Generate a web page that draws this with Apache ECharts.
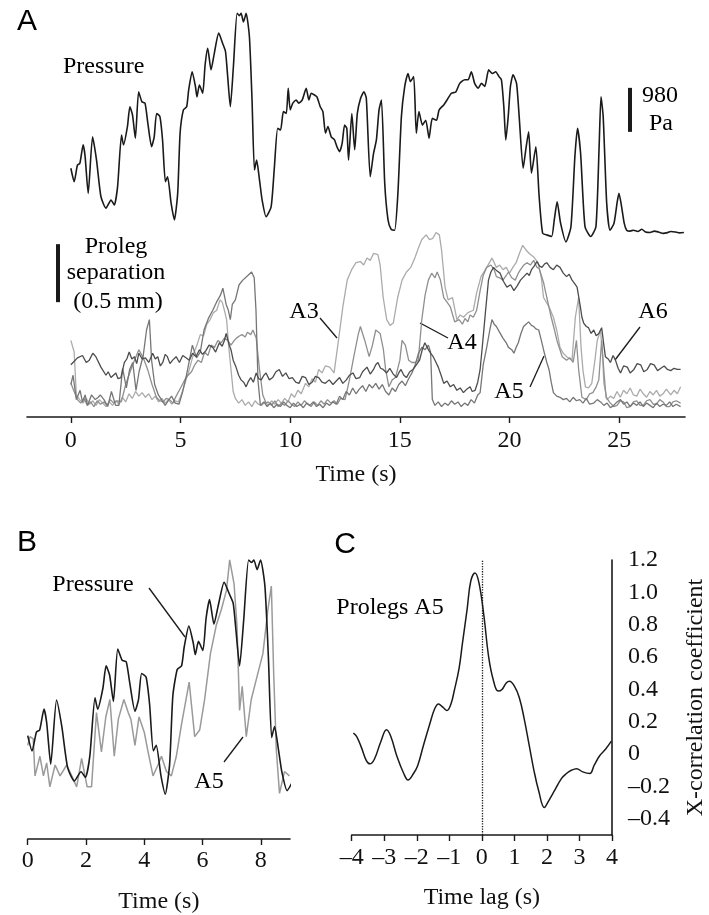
<!DOCTYPE html>
<html><head><meta charset="utf-8">
<script src="https://cdn.jsdelivr.net/npm/echarts@6/dist/echarts.min.js"></script>
<style>html,body{margin:0;padding:0;background:#fff}#c{width:709px;height:915px}</style>
</head><body><div id="c"></div>
<script>
// ---------- DATA ----------
// Panel A: pressure (Pa, relative) vs time (s)
const pressurePa = [[0,1420],[0.15,1120],[0.3,1490],[0.41,1530],[0.56,1940],[0.65,1680],[0.79,860],[0.99,2120],[1.17,1600],[1.37,790],[1.6,530],[1.83,710],[1.98,600],[2.13,1010],[2.31,2160],[2.4,1940],[2.58,2350],[2.69,2790],[2.81,2610],[2.94,2090],[3.09,3120],[3.24,2900],[3.38,2870],[3.5,2460],[3.68,1900],[3.8,2120],[3.91,2640],[4.06,2570],[4.18,2050],[4.31,1120],[4.41,1230],[4.57,640],[4.72,270],[4.87,860],[4.98,2200],[5.13,2720],[5.28,2790],[5.37,3160],[5.53,3570],[5.68,3240],[5.75,3010],[5.86,3270],[6.01,3090],[6.12,3720],[6.24,4090],[6.39,3610],[6.54,3980],[6.74,4430],[6.92,4200],[7.05,4020],[7.15,3460],[7.27,2790],[7.41,3680],[7.58,4870],[7.68,4820],[7.76,4870],[7.87,4680],[7.99,4870],[8.14,4350],[8.26,2940],[8.37,1380],[8.47,1600],[8.6,1160],[8.72,710],[8.9,340],[9.13,560],[9.28,1450],[9.43,2310],[9.56,2270],[9.69,2680],[9.82,2640],[9.91,3200],[10.0,2720],[10.12,2870],[10.27,2940],[10.39,2870],[10.55,2940],[10.73,3200],[10.85,2940],[10.96,3090],[11.11,3050],[11.22,3010],[11.37,2790],[11.49,2680],[11.61,2200],[11.72,2350],[11.87,2120],[12.02,2050],[12.13,1900],[12.25,1790],[12.37,1980],[12.48,2380],[12.58,2310],[12.66,1600],[12.81,2640],[12.94,1830],[13.06,2640],[13.21,2980],[13.36,3120],[13.47,2980],[13.65,1230],[13.8,1750],[13.93,2050],[14.05,2720],[14.16,2940],[14.31,1080],[14.46,270],[14.6,60],[14.76,40],[14.91,860],[15.07,2570],[15.22,3240],[15.37,3530],[15.48,3350],[15.63,3460],[15.75,2200],[15.87,2680],[16.03,2380],[16.18,2490],[16.33,2090],[16.48,2530],[16.67,2490],[16.79,2720],[17.0,2830],[17.15,2940],[17.35,3090],[17.55,3120],[17.73,3310],[17.96,3390],[18.11,3390],[18.26,3570],[18.41,3310],[18.57,3200],[18.72,3310],[18.87,3240],[19.05,3610],[19.22,3530],[19.37,3570],[19.52,3460],[19.63,3390],[19.74,2790],[19.83,2050],[19.94,2570],[20.04,3240],[20.16,3500],[20.32,3310],[20.44,2570],[20.62,1420],[20.74,1830],[20.87,2230],[21.0,1310],[21.2,1900],[21.35,790],[21.51,-30],[21.72,-70],[21.92,-100],[22.04,270],[22.17,670],[22.33,190],[22.57,-220],[22.8,120],[22.98,1680],[23.1,2310],[23.24,1750],[23.44,120],[23.7,-100],[23.94,120],[24.09,1980],[24.17,3010],[24.27,2570],[24.43,640],[24.58,40],[24.76,190],[24.91,670],[24.99,860],[25.11,560],[25.23,190],[25.34,40],[25.5,20],[25.65,40],[25.85,10],[26.03,60],[26.2,0],[26.41,-10],[26.6,20],[26.79,0],[27.0,-30],[27.17,-20],[27.35,10],[27.55,0],[27.75,-20],[27.95,-10]];

// Panel A: proleg separation (mm) vs time (s)
const prolegA3 = [[0,0.66],[0.15,0.56],[0.25,0.19],[0.4,0.15],[0.55,0.12],[0.7,0.16],[0.85,0.11],[1.0,0.14],[1.15,0.1],[1.3,0.15],[1.45,0.12],[1.6,0.09],[1.75,0.13],[1.9,0.1],[2.05,0.14],[2.2,0.11],[2.35,0.17],[2.5,0.13],[2.65,0.2],[2.8,0.16],[2.95,0.22],[3.1,0.18],[3.25,0.21],[3.4,0.17],[3.55,0.2],[3.7,0.15],[3.85,0.18],[4.0,0.13],[4.15,0.16],[4.3,0.12],[4.45,0.15],[4.6,0.11],[4.75,0.14],[4.9,0.13],[5.05,0.2],[5.2,0.29],[5.4,0.41],[5.6,0.55],[5.75,0.62],[5.9,0.71],[6.05,0.7],[6.2,0.8],[6.35,0.84],[6.5,0.9],[6.65,0.92],[6.8,1.01],[6.9,0.99],[7.0,0.92],[7.1,0.84],[7.2,0.6],[7.3,0.41],[7.4,0.22],[7.5,0.16],[7.65,0.12],[7.8,0.15],[7.95,0.1],[8.1,0.13],[8.25,0.09],[8.4,0.14],[8.55,0.11],[8.7,0.1],[8.85,0.13],[9.0,0.1],[9.15,0.14],[9.3,0.11],[9.45,0.15],[9.6,0.12],[9.75,0.16],[9.9,0.13],[10.05,0.2],[10.2,0.17],[10.35,0.23],[10.5,0.2],[10.7,0.29],[10.85,0.26],[11.0,0.33],[11.15,0.3],[11.3,0.41],[11.45,0.38],[11.6,0.44],[11.8,0.43],[12.0,0.38],[12.2,0.66],[12.4,0.95],[12.6,1.18],[12.8,1.27],[13.0,1.33],[13.2,1.34],[13.35,1.31],[13.5,1.37],[13.65,1.35],[13.8,1.41],[14.0,1.4],[14.1,1.31],[14.24,1.03],[14.4,0.84],[14.55,0.79],[14.7,0.81],[14.9,1.03],[15.1,1.18],[15.3,1.25],[15.5,1.29],[15.7,1.38],[15.85,1.46],[16.0,1.53],[16.2,1.57],[16.35,1.53],[16.5,1.54],[16.65,1.59],[16.8,1.57],[16.9,1.44],[17.06,1.12],[17.2,1.01],[17.4,1.03],[17.6,0.84],[17.75,0.88],[17.9,0.86],[18.1,0.9],[18.35,0.92],[18.5,1.07],[18.7,1.21],[18.96,1.29],[19.2,1.37],[19.4,1.29],[19.55,1.31],[19.7,1.27],[19.85,1.29],[20.0,1.24],[20.15,1.29],[20.3,1.33],[20.45,1.41],[20.6,1.48],[20.75,1.44],[20.9,1.41],[21.1,1.38],[21.3,1.33],[21.45,1.2],[21.55,1.03],[21.8,0.95],[22.0,0.86],[22.15,0.75],[22.3,0.6],[22.45,0.55],[22.6,0.52],[22.85,0.49],[23.0,0.86],[23.15,1.03],[23.26,0.6],[23.35,0.4],[23.46,0.26],[23.6,0.25],[23.75,0.29],[23.9,0.5],[24.0,0.66],[24.15,0.75],[24.25,0.5],[24.3,0.29],[24.45,0.15],[24.6,0.18],[24.75,0.16],[24.9,0.22],[25.05,0.17],[25.2,0.23],[25.35,0.2],[25.5,0.25],[25.65,0.19],[25.8,0.18],[25.95,0.24],[26.1,0.2],[26.25,0.17],[26.4,0.22],[26.55,0.19],[26.7,0.23],[26.85,0.18],[27.0,0.2],[27.15,0.24],[27.35,0.19],[27.5,0.23],[27.65,0.2],[27.8,0.26]];

const prolegA4 = [[0,0.29],[0.15,0.22],[0.3,0.15],[0.45,0.12],[0.6,0.16],[0.75,0.1],[0.9,0.13],[1.05,0.09],[1.2,0.14],[1.35,0.11],[1.5,0.13],[1.65,0.1],[1.8,0.15],[1.95,0.12],[2.1,0.14],[2.3,0.13],[2.5,0.28],[2.7,0.39],[2.9,0.49],[3.1,0.58],[3.3,0.51],[3.5,0.41],[3.7,0.28],[3.9,0.17],[4.05,0.14],[4.2,0.13],[4.35,0.16],[4.5,0.15],[4.65,0.12],[4.8,0.18],[5.0,0.25],[5.25,0.34],[5.5,0.39],[5.65,0.45],[5.8,0.49],[5.95,0.47],[6.1,0.56],[6.25,0.53],[6.4,0.62],[6.55,0.6],[6.7,0.66],[6.85,0.64],[7.0,0.68],[7.15,0.66],[7.3,0.62],[7.45,0.66],[7.55,0.68],[7.7,0.7],[7.8,0.71],[7.95,0.69],[8.05,0.73],[8.2,0.71],[8.3,0.75],[8.45,0.68],[8.6,0.41],[8.75,0.19],[8.9,0.12],[9.0,0.13],[9.15,0.1],[9.3,0.14],[9.45,0.09],[9.6,0.12],[9.75,0.1],[9.9,0.14],[10.05,0.11],[10.2,0.09],[10.35,0.13],[10.5,0.1],[10.65,0.14],[10.8,0.11],[10.95,0.09],[11.1,0.13],[11.25,0.1],[11.4,0.14],[11.55,0.11],[11.7,0.15],[11.85,0.12],[12.0,0.14],[12.15,0.11],[12.3,0.16],[12.5,0.15],[12.7,0.32],[12.9,0.52],[13.1,0.71],[13.2,0.78],[13.4,0.66],[13.6,0.52],[13.75,0.62],[13.9,0.75],[14.1,0.72],[14.25,0.58],[14.35,0.41],[14.5,0.26],[14.65,0.32],[14.8,0.34],[15.0,0.49],[15.1,0.66],[15.25,0.62],[15.4,0.49],[15.55,0.47],[15.7,0.47],[15.84,0.49],[16.0,0.84],[16.15,1.05],[16.3,1.18],[16.45,1.24],[16.6,1.2],[16.7,1.25],[16.85,1.18],[17.0,1.03],[17.15,0.99],[17.3,0.95],[17.5,0.82],[17.7,0.84],[17.85,0.8],[17.97,0.85],[18.1,0.82],[18.2,0.88],[18.35,0.86],[18.5,0.92],[18.66,1.09],[18.8,1.22],[18.96,1.29],[19.15,1.31],[19.3,1.27],[19.4,1.21],[19.55,1.2],[19.7,1.18],[19.85,1.22],[19.95,1.25],[20.1,1.2],[20.26,1.18],[20.4,1.24],[20.5,1.27],[20.65,1.31],[20.8,1.33],[20.95,1.31],[21.1,1.35],[21.25,1.29],[21.35,1.28],[21.55,1.16],[21.7,1.03],[21.9,0.86],[22.05,0.75],[22.16,0.66],[22.3,0.58],[22.4,0.52],[22.6,0.49],[22.75,0.51],[22.9,0.47],[23.05,0.66],[23.15,0.41],[23.3,0.17],[23.5,0.15],[23.65,0.2],[23.8,0.21],[23.95,0.26],[24.07,0.32],[24.2,0.66],[24.3,0.4],[24.4,0.17],[24.6,0.12],[24.75,0.09],[24.9,0.1],[25.05,0.14],[25.2,0.13],[25.35,0.08],[25.5,0.09],[25.65,0.13],[25.8,0.14],[25.95,0.1],[26.1,0.1],[26.25,0.14],[26.4,0.15],[26.55,0.11],[26.7,0.11],[26.85,0.15],[27.0,0.13],[27.15,0.09],[27.3,0.09],[27.45,0.13],[27.6,0.14],[27.8,0.12]];

const prolegA5 = [[0,0.28],[0.1,0.36],[0.25,0.15],[0.42,0.23],[0.53,0.13],[0.65,0.19],[0.76,0.1],[0.94,0.19],[1.11,0.15],[1.25,0.17],[1.34,0.19],[1.51,0.15],[1.68,0.09],[1.85,0.22],[2.04,0.1],[2.19,0.1],[2.36,0.42],[2.53,0.25],[2.68,0.41],[2.82,0.47],[2.97,0.23],[3.11,0.39],[3.3,0.53],[3.45,0.75],[3.58,0.84],[3.68,0.49],[3.82,0.28],[3.99,0.19],[4.13,0.15],[4.3,0.1],[4.47,0.15],[4.59,0.18],[4.76,0.12],[4.93,0.11],[5.1,0.22],[5.27,0.36],[5.54,0.62],[5.73,0.51],[5.9,0.56],[6.07,0.75],[6.27,0.85],[6.47,0.92],[6.64,0.99],[6.82,1.05],[6.93,1.11],[7.08,0.97],[7.18,0.92],[7.27,0.84],[7.36,0.97],[7.5,1.01],[7.67,1.14],[7.84,1.18],[8.07,1.22],[8.24,1.25],[8.36,1.2],[8.44,0.92],[8.53,0.32],[8.64,0.1],[8.8,0.13],[8.95,0.09],[9.1,0.12],[9.25,0.08],[9.4,0.11],[9.55,0.09],[9.7,0.13],[9.85,0.1],[10.0,0.08],[10.15,0.12],[10.3,0.09],[10.45,0.11],[10.6,0.08],[10.75,0.12],[10.9,0.1],[11.05,0.13],[11.2,0.09],[11.35,0.11],[11.5,0.08],[11.65,0.12],[11.8,0.1],[11.95,0.13],[12.1,0.11],[12.25,0.18],[12.4,0.15],[12.55,0.22],[12.7,0.19],[12.85,0.25],[13.0,0.2],[13.15,0.24],[13.3,0.27],[13.45,0.22],[13.6,0.28],[13.75,0.25],[13.9,0.29],[14.05,0.24],[14.2,0.28],[14.35,0.22],[14.5,0.19],[14.65,0.25],[14.8,0.22],[14.95,0.28],[15.1,0.31],[15.25,0.27],[15.4,0.33],[15.55,0.38],[15.7,0.45],[15.85,0.55],[16.0,0.6],[16.15,0.58],[16.3,0.62],[16.4,0.56],[16.48,0.15],[16.6,0.1],[16.75,0.13],[16.9,0.09],[17.05,0.12],[17.2,0.1],[17.35,0.14],[17.5,0.11],[17.65,0.13],[17.8,0.09],[17.95,0.12],[18.1,0.1],[18.25,0.15],[18.4,0.12],[18.55,0.19],[18.66,0.21],[18.8,0.45],[18.96,0.6],[19.1,0.75],[19.2,0.84],[19.3,0.8],[19.4,0.78],[19.55,0.73],[19.7,0.68],[19.85,0.64],[19.95,0.6],[20.1,0.58],[20.2,0.55],[20.3,0.6],[20.4,0.64],[20.52,0.72],[20.64,0.78],[20.75,0.8],[20.87,0.82],[21.0,0.79],[21.1,0.78],[21.2,0.76],[21.33,0.75],[21.45,0.66],[21.55,0.58],[21.7,0.47],[21.8,0.41],[21.9,0.3],[22.0,0.21],[22.15,0.18],[22.3,0.17],[22.45,0.15],[22.6,0.16],[22.75,0.13],[22.9,0.17],[23.05,0.14],[23.2,0.15],[23.35,0.12],[23.5,0.16],[23.65,0.11],[23.84,0.12],[24.0,0.15],[24.15,0.13],[24.3,0.1],[24.45,0.12],[24.6,0.08],[24.75,0.1],[24.9,0.13],[25.06,0.15],[25.2,0.11],[25.35,0.13],[25.5,0.09],[25.65,0.12],[25.8,0.1],[25.95,0.13],[26.1,0.09],[26.25,0.12],[26.4,0.1],[26.55,0.08],[26.7,0.12],[26.85,0.09],[27.0,0.11],[27.15,0.1],[27.3,0.13],[27.45,0.09],[27.6,0.11],[27.8,0.09]];

const prolegA6 = [[0,0.45],[0.1,0.47],[0.3,0.51],[0.53,0.53],[0.7,0.47],[0.84,0.49],[1.0,0.55],[1.14,0.52],[1.37,0.43],[1.6,0.36],[1.7,0.39],[1.83,0.34],[2.05,0.38],[2.15,0.33],[2.28,0.34],[2.44,0.47],[2.55,0.5],[2.66,0.56],[2.78,0.5],[2.9,0.52],[3.0,0.46],[3.1,0.55],[3.25,0.5],[3.4,0.51],[3.55,0.47],[3.73,0.55],[3.85,0.5],[3.96,0.52],[4.08,0.44],[4.19,0.47],[4.3,0.54],[4.4,0.52],[4.52,0.46],[4.64,0.49],[4.8,0.52],[4.95,0.47],[5.1,0.53],[5.25,0.51],[5.4,0.49],[5.55,0.55],[5.7,0.52],[5.86,0.58],[6.0,0.54],[6.15,0.57],[6.3,0.62],[6.47,0.6],[6.6,0.56],[6.77,0.64],[6.9,0.61],[7.0,0.66],[7.08,0.72],[7.15,0.71],[7.22,0.62],[7.3,0.58],[7.4,0.49],[7.53,0.43],[7.65,0.36],[7.76,0.32],[7.88,0.3],[7.99,0.26],[8.1,0.31],[8.2,0.34],[8.32,0.3],[8.45,0.38],[8.56,0.33],[8.68,0.32],[8.8,0.36],[8.9,0.38],[9.05,0.32],[9.2,0.34],[9.35,0.39],[9.5,0.41],[9.65,0.35],[9.8,0.38],[9.95,0.33],[10.1,0.34],[10.25,0.3],[10.4,0.29],[10.55,0.35],[10.7,0.34],[10.85,0.28],[11.0,0.3],[11.15,0.35],[11.3,0.34],[11.45,0.3],[11.6,0.29],[11.78,0.32],[11.95,0.28],[12.1,0.31],[12.25,0.34],[12.4,0.29],[12.56,0.32],[12.7,0.36],[12.86,0.38],[13.0,0.33],[13.17,0.34],[13.3,0.39],[13.5,0.43],[13.65,0.37],[13.8,0.41],[13.9,0.45],[14.0,0.47],[14.12,0.42],[14.24,0.41],[14.4,0.38],[14.54,0.42],[14.7,0.37],[14.85,0.34],[14.95,0.38],[15.05,0.41],[15.18,0.36],[15.3,0.34],[15.45,0.39],[15.6,0.41],[15.75,0.45],[15.9,0.49],[16.02,0.58],[16.14,0.64],[16.3,0.58],[16.4,0.55],[16.52,0.52],[16.65,0.47],[16.75,0.43],[16.88,0.36],[17.0,0.29],[17.15,0.31],[17.3,0.26],[17.45,0.28],[17.6,0.23],[17.75,0.25],[17.9,0.21],[18.05,0.24],[18.2,0.26],[18.3,0.22],[18.43,0.23],[18.55,0.3],[18.66,0.41],[18.78,0.65],[18.9,0.9],[19.04,1.18],[19.15,1.25],[19.27,1.29],[19.42,1.26],[19.57,1.24],[19.72,1.17],[19.88,1.12],[20.05,1.14],[20.2,1.09],[20.35,1.13],[20.5,1.18],[20.65,1.21],[20.8,1.24],[20.9,1.22],[21.0,1.27],[21.12,1.3],[21.25,1.34],[21.37,1.3],[21.48,1.29],[21.6,1.32],[21.7,1.33],[21.85,1.29],[22.0,1.27],[22.15,1.31],[22.3,1.29],[22.45,1.24],[22.6,1.21],[22.72,1.23],[22.85,1.18],[22.97,1.15],[23.08,1.12],[23.15,1.04],[23.23,0.95],[23.3,0.86],[23.38,0.81],[23.5,0.78],[23.6,0.77],[23.72,0.72],[23.84,0.75],[23.95,0.7],[24.07,0.72],[24.2,0.77],[24.3,0.62],[24.37,0.52],[24.5,0.5],[24.6,0.47],[24.72,0.53],[24.83,0.49],[24.95,0.42],[25.06,0.38],[25.2,0.44],[25.37,0.43],[25.5,0.38],[25.67,0.41],[25.82,0.46],[25.98,0.45],[26.12,0.39],[26.28,0.41],[26.43,0.46],[26.59,0.45],[26.75,0.4],[26.9,0.42],[27.05,0.44],[27.2,0.41],[27.35,0.4],[27.5,0.42],[27.65,0.41],[27.8,0.41]];

// Panel B: proleg A5 (mm) for the first 9 s (pressure reuses pressurePa)
const bA5 = [[0,0.26],[0.08,0.30],[0.19,0.29],[0.25,0.12],[0.42,0.21],[0.54,0.12],[0.65,0.18],[0.76,0.07],[0.94,0.17],[1.11,0.12],[1.34,0.17],[1.51,0.12],[1.68,0.07],[1.85,0.20],[2.04,0.07],[2.19,0.07],[2.36,0.41],[2.53,0.23],[2.68,0.39],[2.82,0.47],[2.97,0.21],[3.11,0.38],[3.3,0.47],[3.45,0.41],[3.54,0.38],[3.68,0.26],[3.82,0.39],[4.0,0.32],[4.13,0.23],[4.3,0.12],[4.47,0.17],[4.59,0.21],[4.76,0.14],[4.93,0.12],[5.1,0.21],[5.27,0.35],[5.54,0.55],[5.73,0.30],[5.9,0.33],[6.07,0.47],[6.27,0.68],[6.47,0.81],[6.64,0.88],[6.82,0.97],[6.93,1.11],[7.08,1.00],[7.18,0.81],[7.27,0.42],[7.36,0.53],[7.5,0.30],[7.67,0.47],[7.84,0.56],[8.07,0.68],[8.24,0.88],[8.36,0.99],[8.44,0.59],[8.53,0.24],[8.64,0.04],[8.81,0.14],[8.98,0.12]];

// Panel C: cross-correlation vs time lag (s)
const xcorr = [[-3.95,0.13],[-3.85,0.11],[-3.7,0.04],[-3.55,-0.04],[-3.44,-0.06],[-3.3,-0.03],[-3.1,0.08],[-2.93,0.15],[-2.8,0.11],[-2.6,-0.02],[-2.4,-0.12],[-2.27,-0.16],[-2.1,-0.12],[-1.97,-0.07],[-1.8,0.05],[-1.61,0.18],[-1.45,0.28],[-1.33,0.31],[-1.2,0.29],[-1.07,0.27],[-0.95,0.31],[-0.85,0.39],[-0.7,0.53],[-0.6,0.68],[-0.45,0.9],[-0.34,1.07],[-0.21,1.12],[-0.09,1.06],[0.06,0.86],[0.21,0.6],[0.35,0.46],[0.5,0.39],[0.62,0.4],[0.75,0.44],[0.85,0.45],[1.0,0.42],[1.15,0.35],[1.3,0.22],[1.45,0.06],[1.6,-0.1],[1.75,-0.23],[1.92,-0.33],[2.05,-0.29],[2.25,-0.22],[2.45,-0.15],[2.6,-0.12],[2.75,-0.1],[2.91,-0.09],[3.1,-0.11],[3.32,-0.12],[3.45,-0.07],[3.62,-0.01],[3.8,0.03],[3.98,0.08]];

// Tick labels
const aTicks = [0, 5, 10, 15, 20, 25];
const bTicks = [0, 2, 4, 6, 8];
const cTicksX = [-4, -3, -2, -1, 0, 1, 2, 3, 4];
const cTicksY = [-0.4, -0.2, 0, 0.2, 0.4, 0.6, 0.8, 1.0, 1.2];
// Scale bars
const scaleBarPa = 980;
const scaleBarMm = 0.5;

// ---------- CHART ----------
const chart = echarts.init(document.getElementById('c'), null, {renderer: 'canvas'});
const SERIF = '"Liberation Serif", "Times New Roman", serif';
const SANS = '"Liberation Sans", Arial, sans-serif';
const INK = '#1a1a1a';
const FS = 24;
const dash = v => (v < 0 ? '\u2013' : '') + Math.abs(v);
const fmtY = v => Math.abs(v) < 1e-9 ? '0' : (v < 0 ? '\u2013' : '') + Math.abs(v).toFixed(1);

const lbl = {color: '#111', fontFamily: SERIF, fontSize: FS};
const axisLineSt = {show: true, onZero: false, lineStyle: {color: INK, width: 1.6}};
const tickSt = {show: true, length: 6, lineStyle: {color: INK, width: 1.4}};

function txt(text, x, y, opts) {
  return {type: 'text', silent: true, style: Object.assign({
    text, x, y, fill: '#000', font: FS + 'px ' + SERIF, align: 'center', verticalAlign: 'middle'
  }, opts || {})};
}
function seg(x1, y1, x2, y2) {
  return {type: 'line', silent: true, shape: {x1, y1, x2, y2}, style: {stroke: INK, lineWidth: 1.3}};
}

const option = {
  animation: false,
  backgroundColor: '#fff',
  grid: [
    {left: 27, right: 24, top: 0, height: 245},
    {left: 27, right: 24, top: 230, height: 187},
    {left: 27.7, right: 419, top: 555, height: 285},
    {left: 351.7, right: 95.5, top: 560, height: 275}
  ],
  xAxis: [
    {gridIndex: 0, type: 'value', min: -2, max: 28, show: false},
    {gridIndex: 1, type: 'value', min: -2, max: 28, splitLine: {show: false},
     axisLine: axisLineSt, axisTick: Object.assign({customValues: aTicks}, tickSt),
     axisLabel: Object.assign({customValues: aTicks, margin: 12}, lbl),
     name: 'Time (s)', nameLocation: 'middle', nameGap: 46, nameTextStyle: lbl},
    {gridIndex: 2, type: 'value', min: 0, max: 9, splitLine: {show: false},
     axisLine: axisLineSt, axisTick: Object.assign({customValues: bTicks}, tickSt),
     axisLabel: Object.assign({customValues: bTicks, margin: 10}, lbl),
     name: 'Time (s)', nameLocation: 'middle', nameGap: 51, nameTextStyle: lbl},
    {gridIndex: 3, type: 'value', min: -4, max: 4, splitLine: {show: false},
     axisLine: axisLineSt, axisTick: Object.assign({customValues: cTicksX}, tickSt),
     axisLabel: Object.assign({customValues: cTicksX, margin: 11, formatter: dash}, lbl),
     name: 'Time lag (s)', nameLocation: 'middle', nameGap: 51, nameTextStyle: lbl}
  ],
  yAxis: [
    {gridIndex: 0, type: 'value', min: -290, max: 5167, show: false},
    {gridIndex: 1, type: 'value', min: 0, max: 1.612, show: false},
    {gridIndex: 2, type: 'value', min: -611, max: 4967, show: false},
    {gridIndex: 2, type: 'value', min: -0.169, max: 1.132, show: false},
    {gridIndex: 3, type: 'value', position: 'right', min: -0.5, max: 1.2, splitLine: {show: false},
     axisLine: axisLineSt, axisTick: {show: false},
     axisLabel: Object.assign({customValues: cTicksY, margin: 16, formatter: fmtY, align: 'left'}, lbl),
     name: 'X-correlation coefficient', nameLocation: 'middle', nameRotate: 90, nameGap: 72, nameTextStyle: lbl}
  ],
  series: [
    {type: 'line', name: 'Pressure', xAxisIndex: 0, yAxisIndex: 0, data: pressurePa, showSymbol: false, smooth: 0.2,
     lineStyle: {color: INK, width: 1.6}, clip: false,
     markLine: {silent: true, symbol: ['none', 'none'], label: {show: false},
       lineStyle: {color: INK, width: 4, type: 'solid'},
       data: [[{coord: [25.5, 2230]}, {coord: [25.5, 2230 + scaleBarPa]}]]}},
    {type: 'line', name: 'A3', xAxisIndex: 1, yAxisIndex: 1, data: prolegA3, showSymbol: false, lineStyle: {color: '#ababab', width: 1.3}},
    {type: 'line', name: 'A4', xAxisIndex: 1, yAxisIndex: 1, data: prolegA4, showSymbol: false, lineStyle: {color: '#8f8f8f', width: 1.3}},
    {type: 'line', name: 'A5', xAxisIndex: 1, yAxisIndex: 1, data: prolegA5, showSymbol: false, lineStyle: {color: '#767676', width: 1.3}},
    {type: 'line', name: 'A6', xAxisIndex: 1, yAxisIndex: 1, data: prolegA6, showSymbol: false, lineStyle: {color: '#4d4d4d', width: 1.3},
     markLine: {silent: true, symbol: ['none', 'none'], label: {show: false},
       lineStyle: {color: INK, width: 4, type: 'solid'},
       data: [[{coord: [-0.58, 0.99]}, {coord: [-0.58, 0.99 + scaleBarMm]}]]}},
    {type: 'line', name: 'B A5', xAxisIndex: 2, yAxisIndex: 3, data: bA5, showSymbol: false, lineStyle: {color: '#9a9a9a', width: 1.5}},
    {type: 'line', name: 'B Pressure', xAxisIndex: 2, yAxisIndex: 2, data: pressurePa.filter(p => p[0] <= 9.2), showSymbol: false, smooth: 0.2,
     clip: true, lineStyle: {color: INK, width: 1.6}},
    {type: 'line', name: 'X-corr', xAxisIndex: 3, yAxisIndex: 4, data: xcorr, showSymbol: false, smooth: 0.4,
     lineStyle: {color: INK, width: 1.5},
     markLine: {silent: true, symbol: ['none', 'none'], label: {show: false},
       lineStyle: {color: INK, width: 1.3, type: 'dotted'}, data: [{xAxis: 0}]}}
  ],
  graphic: [
    txt('A', 27, 22, {font: '30px ' + SANS}),
    txt('B', 27, 543, {font: '30px ' + SANS}),
    txt('C', 345, 545, {font: '30px ' + SANS}),
    txt('Pressure', 63, 67, {align: 'left'}),
    txt('Proleg', 116, 247),
    txt('separation', 116, 273),
    txt('(0.5 mm)', 118, 302),
    txt('980', 660, 96),
    txt('Pa', 661, 124),
    txt('A3', 304, 312), seg(320, 318, 337, 338),
    txt('A4', 462, 343), seg(448, 338, 420, 323),
    txt('A5', 509, 392), seg(530, 387, 544, 356),
    txt('A6', 653, 312), seg(640, 327, 615, 360),
    txt('Pressure', 93, 585), seg(149, 588, 185, 637),
    txt('A5', 209, 782), seg(224, 762, 243, 737),
    txt('Prolegs A5', 390, 608)
  ]
};
chart.setOption(option);
</script>
</body></html>
